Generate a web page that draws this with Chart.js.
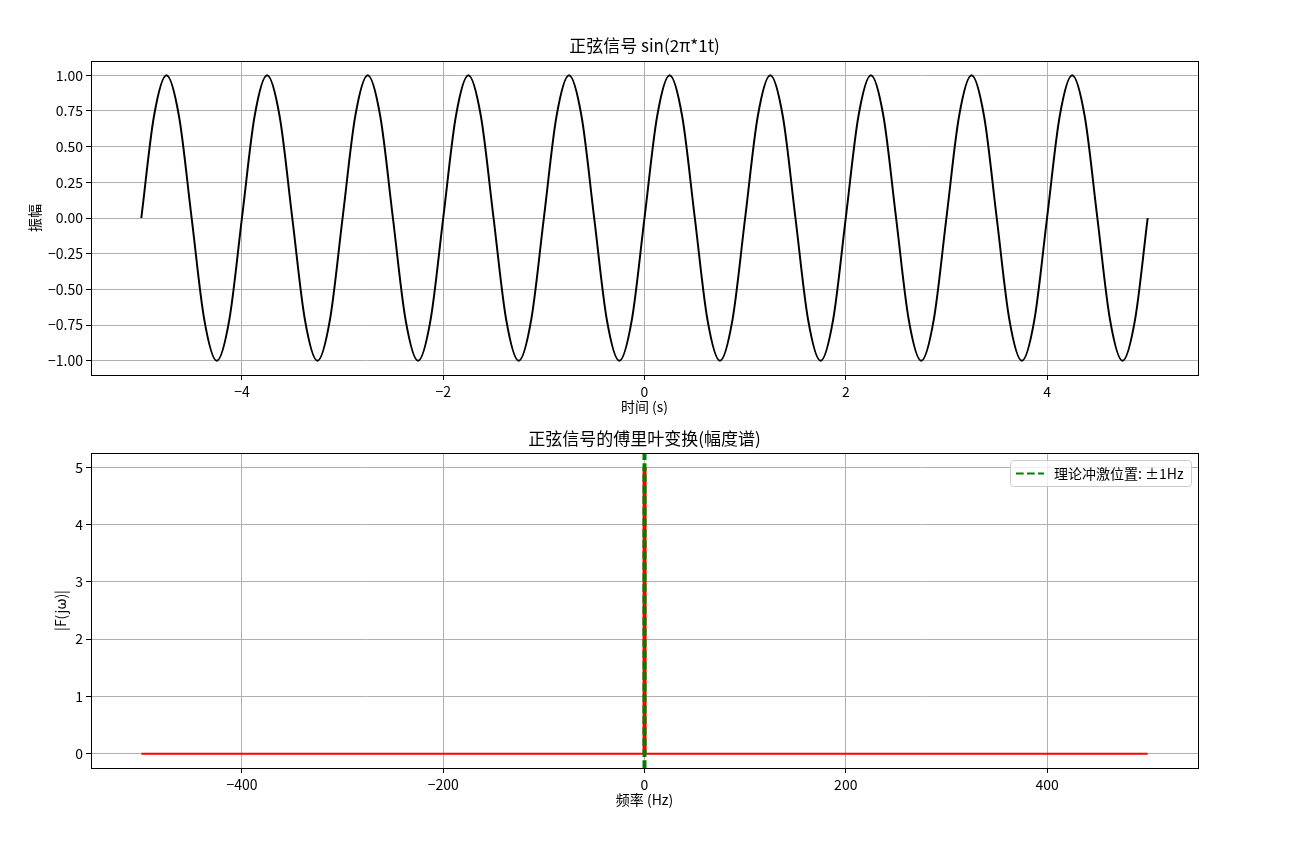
<!DOCTYPE html>
<html>
<head>
<meta charset="utf-8">
<script src="https://cdn.jsdelivr.net/npm/chart.js@4"></script>
<style>
	body { margin: 0; background: #fff; }
	#wrap { position: relative; width: 1309px; height: 848px; }
	canvas { position: absolute; left: 0; }
</style>
</head>
<body>
<div id="wrap">
	<canvas id="sine-chart" width="1309" height="424" style="top:0"></canvas>
	<canvas id="fft-chart" width="1309" height="424" style="top:424px"></canvas>
</div>
<script>

// time signal (peaks, zero crossings and the points between)
const sine_t = [
	-5, -4.875, -4.75, -4.625, -4.5, -4.375, -4.25, -4.125,
	-4, -3.875, -3.75, -3.625, -3.5, -3.375, -3.25, -3.125,
	-3, -2.875, -2.75, -2.625, -2.5, -2.375, -2.25, -2.125,
	-2, -1.875, -1.75, -1.625, -1.5, -1.375, -1.25, -1.125,
	-1, -0.875, -0.75, -0.625, -0.5, -0.375, -0.25, -0.125,
	0, 0.125, 0.25, 0.375, 0.5, 0.625, 0.75, 0.875,
	1, 1.125, 1.25, 1.375, 1.5, 1.625, 1.75, 1.875,
	2, 2.125, 2.25, 2.375, 2.5, 2.625, 2.75, 2.875,
	3, 3.125, 3.25, 3.375, 3.5, 3.625, 3.75, 3.875,
	4, 4.125, 4.25, 4.375, 4.5, 4.625, 4.75, 4.875,
	5
];
const sine_v = [
	0, 0.71, 1, 0.71, 0, -0.71, -1, -0.71,
	0, 0.71, 1, 0.71, 0, -0.71, -1, -0.71,
	0, 0.71, 1, 0.71, 0, -0.71, -1, -0.71,
	0, 0.71, 1, 0.71, 0, -0.71, -1, -0.71,
	0, 0.71, 1, 0.71, 0, -0.71, -1, -0.71,
	0, 0.71, 1, 0.71, 0, -0.71, -1, -0.71,
	0, 0.71, 1, 0.71, 0, -0.71, -1, -0.71,
	0, 0.71, 1, 0.71, 0, -0.71, -1, -0.71,
	0, 0.71, 1, 0.71, 0, -0.71, -1, -0.71,
	0, 0.71, 1, 0.71, 0, -0.71, -1, -0.71,
	0
];
const sine_x_ticks = [-4, -2, 0, 2, 4];
const sine_y_ticks = [-1, -0.75, -0.5, -0.25, 0, 0.25, 0.5, 0.75, 1];

// magnitude spectrum
const freq_hz = [-500, -1.1, -1, -0.9, 0.9, 1, 1.1, 500];
const freq_mag = [0, 0, 5, 0, 0, 5, 0, 0];
const impulse_hz = [-1, 1];
const fft_x_ticks = [-400, -200, 0, 200, 400];
const fft_y_ticks = [0, 1, 2, 3, 4, 5];

const FONT = "'Noto Sans CJK SC', sans-serif";
const FFT_Y_MIN = -0.25;
const FFT_Y_MAX = 5.25;

Chart.defaults.font.family = FONT;
Chart.defaults.color = '#000';

function minus(s) {
	return String(s).replace('-', '\u2212');
}

function fixed_ticks(list) {
	return function (scale) {
		scale.ticks = list.map(v => ({ value: v }));
	};
}

function axis_size(size) {
	return function (scale) {
		if (scale.isHorizontal()) {
			scale.height = size;
		} else {
			scale.width = size;
		}
	};
}

// matplotlib draws a box on all four sides
const frame_plugin = {
	id: 'frame',
	afterDraw(chart) {
		const a = chart.chartArea;
		const ctx = chart.ctx;
		ctx.save();
		ctx.strokeStyle = '#000';
		ctx.lineWidth = 1;
		ctx.strokeRect(Math.round(a.left) + 0.5, Math.round(a.top) + 0.5,
			Math.round(a.right - a.left), Math.round(a.bottom - a.top));
		ctx.restore();
	}
};

// legend box in the upper right corner, only for labelled datasets
const legend_plugin = {
	id: 'mpl_legend',
	afterDraw(chart) {
		const items = chart.data.datasets.filter(d => d.label);
		if (!items.length) return;
		const ctx = chart.ctx;
		const a = chart.chartArea;
		ctx.save();
		ctx.font = '14px ' + FONT;
		const text_w = Math.max(...items.map(d => ctx.measureText(d.label).width));
		const w = Math.round(44 + text_w + 7);
		const h = 26;
		const x = Math.round(a.right - 7 - w);
		const y = Math.round(a.top + 7);
		ctx.beginPath();
		ctx.roundRect(x + 0.5, y + 0.5, w, h, 3);
		ctx.fillStyle = 'rgba(255,255,255,0.8)';
		ctx.fill();
		ctx.strokeStyle = '#cccccc';
		ctx.lineWidth = 1;
		ctx.stroke();
		items.forEach((d, i) => {
			const cy = y + 13.5 + i * 20;
			ctx.beginPath();
			ctx.setLineDash(d.borderDash || []);
			ctx.strokeStyle = d.borderColor;
			ctx.lineWidth = d.borderWidth;
			ctx.moveTo(x + 6, cy);
			ctx.lineTo(x + 34, cy);
			ctx.stroke();
			ctx.setLineDash([]);
			ctx.fillStyle = '#000';
			ctx.textBaseline = 'middle';
			ctx.fillText(d.label, x + 44, cy);
		});
		ctx.restore();
	}
};

function base_scale(ticks, fmt, size, title, title_pad, min, max) {
	return {
		type: 'linear',
		min: min,
		max: max,
		afterBuildTicks: fixed_ticks(ticks),
		afterFit: axis_size(size),
		border: { display: false },
		grid: {
			color: '#b0b0b0',
			lineWidth: 1,
			drawTicks: true,
			tickLength: 5,
			tickColor: '#000',
			tickWidth: 1
		},
		ticks: {
			autoSkip: false,
			maxRotation: 0,
			padding: 3,
			font: { size: 14 },
			color: '#000',
			callback: fmt
		},
		title: {
			display: true,
			text: title,
			font: { size: 14 },
			color: '#000',
			padding: title_pad
		}
	};
}

function common_options(title_text, title_pad, scales) {
	return {
		responsive: false,
		animation: false,
		events: [],
		layout: { padding: { left: 0, right: 111, top: 0, bottom: 0 } },
		plugins: {
			legend: { display: false },
			tooltip: { enabled: false },
			title: {
				display: true,
				text: title_text,
				fullSize: false,
				color: '#000',
				font: { size: 17, weight: 'normal' },
				padding: title_pad
			}
		},
		scales: scales
	};
}

const sine_ctx = document.getElementById('sine-chart');

if ( sine_ctx ) {
	new Chart(sine_ctx, {
		type: 'line',
		data: {
			datasets: [{
				data: sine_t.map((t, i) => ({ x: t, y: sine_v[i] })),
				borderColor: '#000',
				borderWidth: 2,
				pointRadius: 0,
				cubicInterpolationMode: 'monotone',
				fill: false
			}]
		},
		options: common_options('正弦信号 sin(2π*1t)', { top: 35.8, bottom: 4.8 }, {
			x: base_scale(sine_x_ticks, v => minus(v), 49, '时间 (s)', { top: 0, bottom: 8.6 }, -5.5, 5.5),
			y: base_scale(sine_y_ticks, v => minus(v.toFixed(2)), 91, '振幅', { top: 26.6, bottom: 0 }, -1.1, 1.1)
		}),
		plugins: [frame_plugin]
	});
}

const fft_ctx = document.getElementById('fft-chart');

if ( fft_ctx ) {
	// vertical marker lines go over the whole height of the axes
	const impulse_points = [];
	impulse_hz.forEach((f, i) => {
		if (i > 0) impulse_points.push({ x: f, y: null });
		impulse_points.push({ x: f, y: FFT_Y_MIN });
		impulse_points.push({ x: f, y: FFT_Y_MAX });
	});

	new Chart(fft_ctx, {
		type: 'line',
		data: {
			datasets: [
				{
					label: '理论冲激位置: ±1Hz',
					data: impulse_points,
					borderColor: 'green',
					borderWidth: 2,
					borderDash: [7.7, 3.3],
					pointRadius: 0,
					spanGaps: false,
					fill: false,
					order: 0
				},
				{
					data: freq_hz.map((f, i) => ({ x: f, y: freq_mag[i] })),
					borderColor: 'red',
					borderWidth: 2,
					pointRadius: 0,
					fill: false,
					order: 1
				}
			]
		},
		options: common_options('正弦信号的傅里叶变换(幅度谱)', { top: 4.8, bottom: 3.8 }, {
			x: base_scale(fft_x_ticks, v => minus(v), 80, '频率 (Hz)', { top: 0, bottom: 39.6 }, -550, 550),
			y: base_scale(fft_y_ticks, v => minus(v), 91, '|F(jω)|', { top: 52.6, bottom: 0 }, FFT_Y_MIN, FFT_Y_MAX)
		}),
		plugins: [frame_plugin, legend_plugin]
	});
}
</script>
</body>
</html>
